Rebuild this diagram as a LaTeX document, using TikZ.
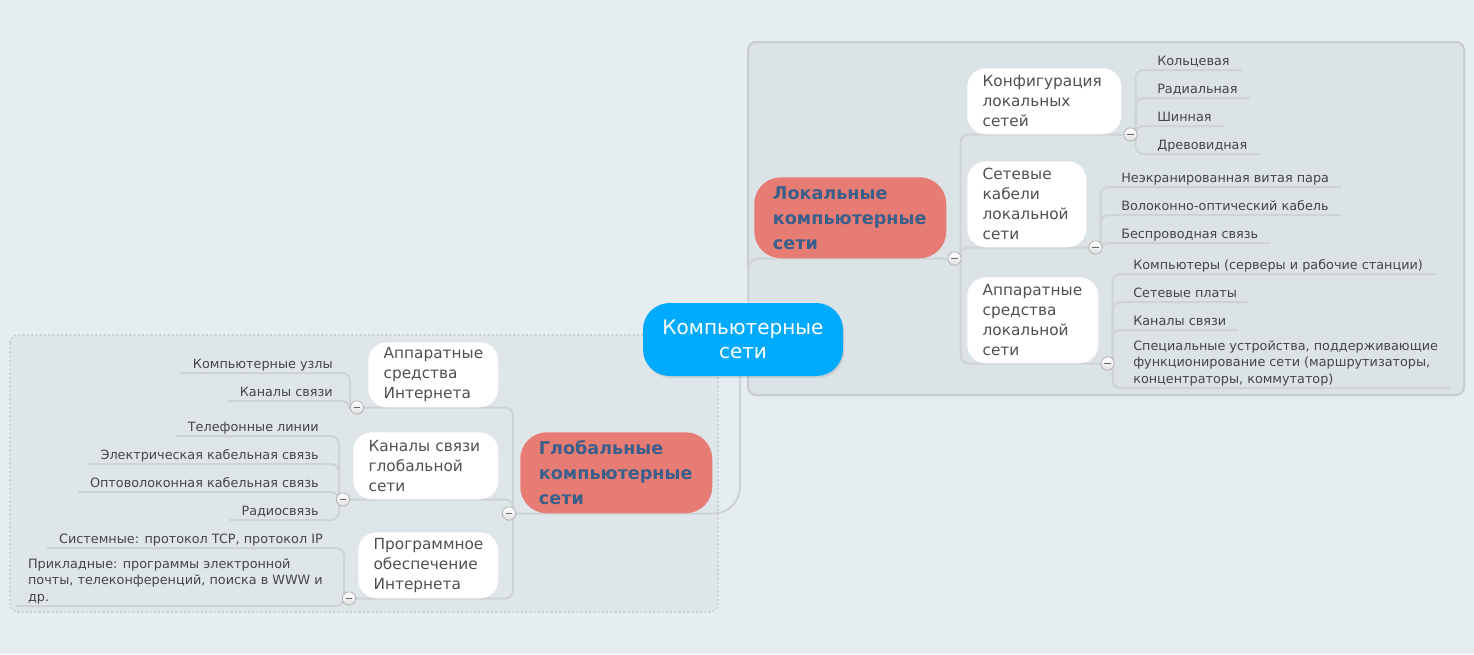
\documentclass[tikz,border=0pt]{standalone}
\usepackage{fontspec}
\setmainfont{DejaVu Sans}
\usepackage{tikz}
\usetikzlibrary{positioning, shadows}

\definecolor{bgcol}{HTML}{E6EDF0}
\definecolor{zonecol}{HTML}{DCE3E6}
\definecolor{zonecolb}{HTML}{DFE6E9}
\definecolor{zoneline}{HTML}{C6CCCF}
\definecolor{edgecol}{HTML}{CDD3D6}
\definecolor{rootcol}{HTML}{00AAFF}
\definecolor{maincol}{HTML}{E67C73}
\definecolor{maintext}{HTML}{3A5F8A}
\definecolor{subtext}{HTML}{505050}
\definecolor{leaftext}{HTML}{454545}

\pgfdeclarelayer{back}
\pgfdeclarelayer{edges}
\pgfsetlayers{back,edges,main}

\tikzstyle{roottopic} = [fill=rootcol, rounded corners=20pt, text=white, align=center,
    minimum width=150pt, minimum height=54.75pt, font=\fontsize{15}{18}\selectfont,
    drop shadow={opacity=0.2, shadow xshift=1pt, shadow yshift=-1.5pt}]
\tikzstyle{maintopic} = [fill=maincol, rounded corners=20pt, text=maintext, align=left,
    text width=116pt, inner xsep=14pt, minimum height=60.75pt, anchor=north west,
    font=\bfseries\fontsize{13.2}{18.75}\selectfont]
\tikzstyle{subtopic} = [fill=white, rounded corners=14pt, text=subtext, align=left,
    inner xsep=11.5pt, anchor=north west, font=\fontsize{11.5}{15}\selectfont]
\tikzstyle{leafbase} = [text=leaftext, align=left, inner xsep=9pt, inner ysep=1.2pt,
    font=\fontsize{9.6}{12.4}\selectfont]
\tikzstyle{leaf} = [leafbase, text depth=2.2pt]
\tikzstyle{foldmark} = [circle, draw=gray!60, top color=white, bottom color=gray!25,
    minimum size=10pt, inner sep=0pt, line width=0.6pt,
    path picture={\draw[gray!80!black, line width=1.2pt] (-2.5pt,0) -- (2.5pt,0);}]
\tikzstyle{branch} = [draw=edgecol, line width=1.5pt, rounded corners=6pt]

\begin{document}
\begin{tikzpicture}[x=0.75pt, y=-0.75pt]
  \useasboundingbox (0,0) rectangle (1474,654);

  % Background and zones
  \begin{pgfonlayer}{back}
    \fill[bgcol] (0,0) rectangle (1474,654);
    \filldraw[fill=zonecol, draw=zoneline, line width=1.5pt, rounded corners=6pt]
      (748,42) rectangle (1464,395);
    \filldraw[fill=zonecolb, draw=zoneline, line width=1.2pt, dotted, rounded corners=6pt]
      (10,335) rectangle (718,612);
  \end{pgfonlayer}

  % Root
  \node[roottopic] (root) at (743,339.5) {Компьютерные\\сети};

  % Main topics
  \node[maintopic] (loc) at (754,177) {Локальные\\компьютерные\\сети};
  \node[maintopic] (glo) at (520,432) {Глобальные\\компьютерные\\сети};
  \node[foldmark] (locm) at ([xshift=6pt]loc.south east) {};
  \node[foldmark] (glom) at ([xshift=-8.25pt]glo.south west) {};

  % Subtopics: local
  \node[subtopic, text width=92.5pt, minimum height=49.5pt] (cfg) at (967,68)
    {Конфигурация\\локальных\\сетей};
  \node[subtopic, text width=66.25pt, minimum height=64.5pt] (cab) at (967,161)
    {Сетевые\\кабели\\локальной\\сети};
  \node[subtopic, text width=75.25pt, minimum height=64.5pt] (hwl) at (967,277)
    {Аппаратные\\средства\\локальной\\сети};
  \node[foldmark] (cfgm) at ([xshift=6.75pt]cfg.south east) {};
  \node[foldmark] (cabm) at ([xshift=6.75pt]cab.south east) {};
  \node[foldmark] (hwlm) at ([xshift=6.75pt]hwl.south east) {};

  % Subtopics: global
  \node[subtopic, text width=74.5pt, minimum height=48.75pt] (hwi) at (368,342)
    {Аппаратные\\средства\\Интернета};
  \node[subtopic, text width=85.75pt, minimum height=50.25pt] (chg) at (353,432)
    {Каналы связи\\глобальной\\сети};
  \node[subtopic, text width=82pt, minimum height=49.5pt] (sw) at (358,532)
    {Программное\\обеспечение\\Интернета};
  \node[foldmark] (hwim) at ([xshift=-8.25pt]hwi.south west) {};
  \node[foldmark] (chgm) at ([xshift=-7.5pt]chg.south west) {};
  \node[foldmark] (swm) at ([xshift=-6.75pt]sw.south west) {};

  % Leaves: configuration
  \node[leaf, anchor=south west] (c1) at (1145,70) {Кольцевая};
  \node[leaf, anchor=south west] (c2) at (1145,98) {Радиальная};
  \node[leaf, anchor=south west] (c3) at (1145,126) {Шинная};
  \node[leaf, anchor=south west] (c4) at (1145,154) {Древовидная};

  % Leaves: cables
  \node[leaf, anchor=south west] (k1) at (1109,187) {Неэкранированная витая пара};
  \node[leaf, anchor=south west] (k2) at (1109,215) {Волоконно-оптический кабель};
  \node[leaf, anchor=south west] (k3) at (1109,243) {Беспроводная связь};

  % Leaves: local hardware
  \node[leaf, anchor=south west] (h1) at (1121,274) {Компьютеры (серверы и рабочие станции)};
  \node[leaf, anchor=south west] (h2) at (1121,302) {Сетевые платы};
  \node[leaf, anchor=south west] (h3) at (1121,330) {Каналы связи};
  \node[leafbase, anchor=south west] (h4) at (1121,388)
    {Специальные устройства, поддерживающие\\функционирование сети (маршрутизаторы,\\концентраторы, коммутатор)};

  % Leaves: internet hardware
  \node[leaf, anchor=south east] (i1) at (345,373) {Компьютерные узлы};
  \node[leaf, anchor=south east] (i2) at (345,401) {Каналы связи};

  % Leaves: global channels
  \node[leaf, anchor=south east] (g1) at (331,436) {Телефонные линии};
  \node[leaf, anchor=south east] (g2) at (331,464) {Электрическая кабельная связь};
  \node[leaf, anchor=south east] (g3) at (331,492) {Оптоволоконная кабельная связь};
  \node[leaf, anchor=south east] (g4) at (331,520) {Радиосвязь};

  % Leaves: software
  \node[leaf, anchor=south east] (s1) at (335,548) {Системные: протокол TCP, протокол IP};
  \node[leafbase, anchor=south east] (s2) at (335,606)
    {Прикладные: программы электронной\\почты, телеконференций, поиска в WWW и\\др.};

  % Branches
  \begin{pgfonlayer}{edges}
    \draw[branch, rounded corners=8pt] ([xshift=3.75pt]root.center) |- (locm.center);
    \draw[branch, rounded corners=20pt] ([xshift=-2.25pt]root.center) |- (glom.center);

    \foreach \m in {cfgm, cabm, hwlm}
      \draw[branch] ([xshift=4.5pt]locm.center) |- (\m.center);
    \foreach \m in {hwim, chgm, swm}
      \draw[branch] ([xshift=3pt]glom.center) |- (\m.center);

    \foreach \l in {c1, c2, c3, c4}
      \draw[branch] ([xshift=3.75pt]cfgm.center) |- (\l.south east);
    \foreach \l in {k1, k2, k3}
      \draw[branch] ([xshift=3.75pt]cabm.center) |- (\l.south east);
    \foreach \l in {h1, h2, h3, h4}
      \draw[branch] ([xshift=3.75pt]hwlm.center) |- (\l.south east);

    \foreach \l in {i1, i2}
      \draw[branch] ([xshift=-5.25pt]hwim.center) |- (\l.south west);
    \foreach \l in {g1, g2, g3, g4}
      \draw[branch] ([xshift=-3pt]chgm.center) |- (\l.south west);
    \foreach \l in {s1, s2}
      \draw[branch] ([xshift=-3.75pt]swm.center) |- (\l.south west);
  \end{pgfonlayer}
\end{tikzpicture}
\end{document}
